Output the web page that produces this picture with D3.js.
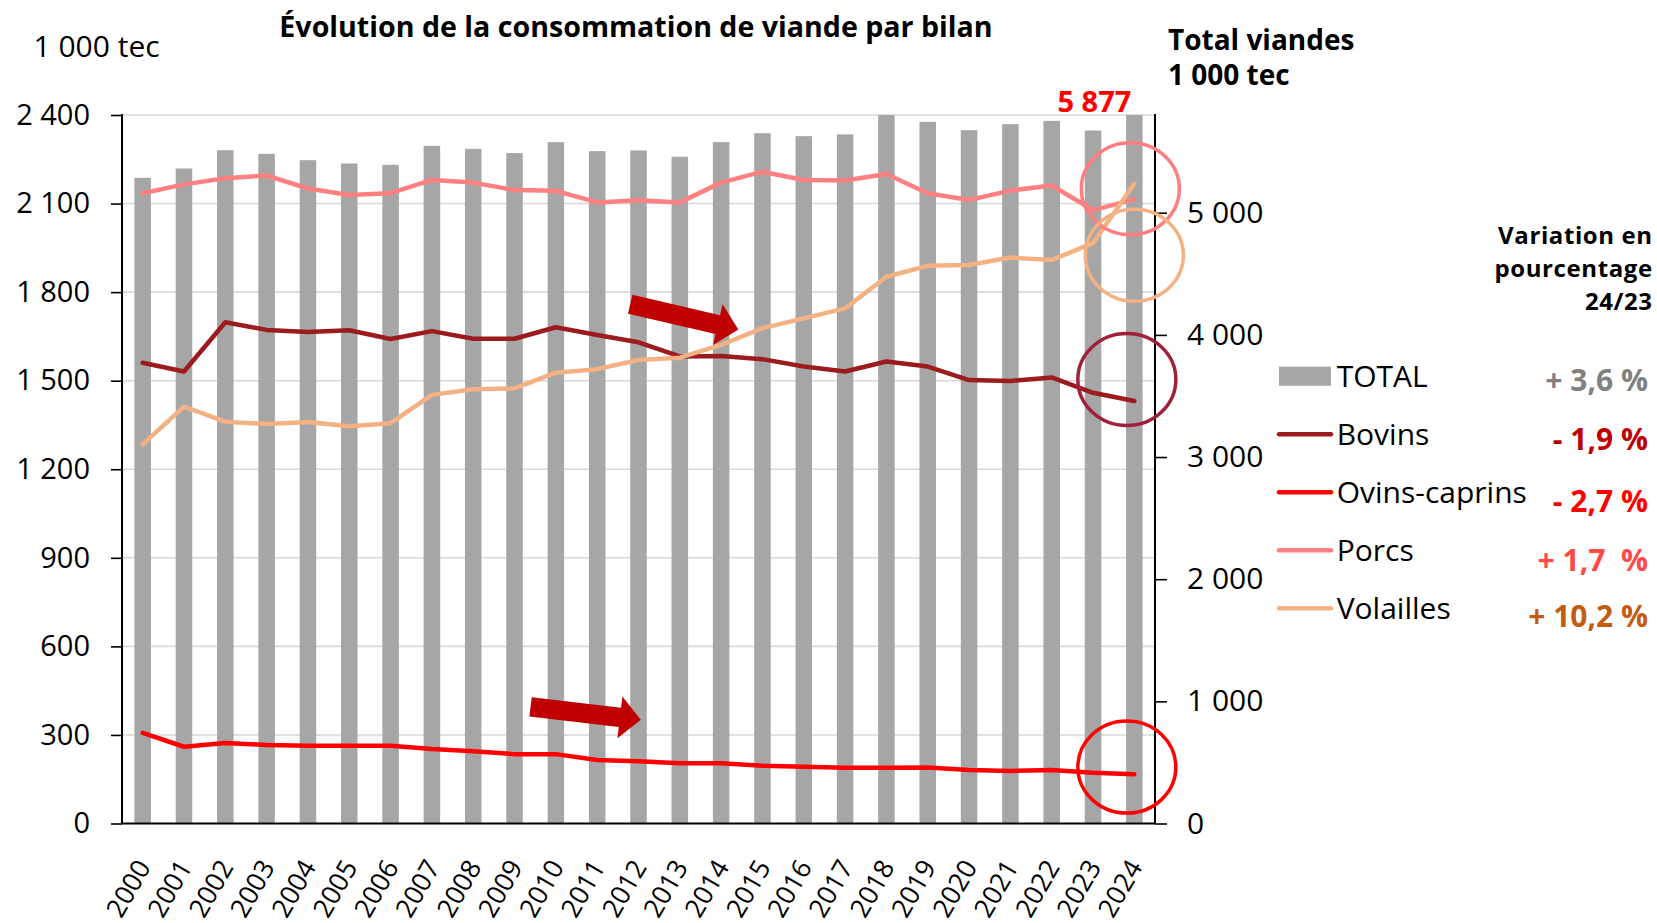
<!DOCTYPE html>
<html lang="fr">
<head>
<meta charset="utf-8">
<script src="https://cdn.jsdelivr.net/npm/d3@7"></script>
<style>
body{margin:0;background:#fff;}
svg{font-family:"Open Sans",sans-serif;}
</style>
</head>
<body>
<div id="chart"></div>
<script>
// donnees (1 000 tec)
const years = ["2000","2001","2002","2003","2004","2005","2006","2007","2008","2009","2010","2011","2012",
  "2013","2014","2015","2016","2017","2018","2019","2020","2021","2022","2023","2024"];
const total = [5286,5362,5512,5482,5430,5403,5392,5548,5523,5488,5578,5504,5510,5458,5578,5651,5627,5641,5810,5744,5676,5725,5752,5673,5877];
const bovins = [1561,1531,1698,1672,1665,1671,1641,1668,1642,1642,1681,1655,1630,1582,1584,1573,1548,1531,1565,1548,1502,1499,1511,1459,1431];
const ovins = [307,260,273,266,263,263,263,252,245,235,235,215,211,204,204,196,192,189,189,190,181,178,181,172,167];
const porcs = [2135,2165,2186,2195,2151,2129,2135,2180,2171,2146,2143,2104,2111,2104,2171,2208,2180,2178,2200,2135,2112,2144,2161,2078,2114];
const volailles = [1284,1412,1361,1353,1360,1346,1356,1452,1471,1474,1527,1539,1570,1578,1621,1678,1711,1745,1852,1889,1892,1917,1909,1966,2167];
const leftTicks = [0,300,600,900,1200,1500,1800,2100,2400];
const rightTicks = [0,1000,2000,3000,4000,5000];
const legendNames = ["TOTAL","Bovins","Ovins-caprins","Porcs","Volailles"];
const variations = ["+ 3,6 %","- 1,9 %","- 2,7 %","+ 1,7  %","+ 10,2 %"];

const W = 1657, H = 923;
const pL = 122, pR = 1155, pT = 115, pB = 823.5;

const svg = d3.select("#chart").append("svg")
  .attr("width", W).attr("height", H);

const x = d3.scaleBand().domain(years).range([pL, pR]).paddingInner(0.6).paddingOuter(0.3);
const xc = d => x(d) + x.bandwidth() / 2;
const yL = d3.scaleLinear().domain([0, 2400]).range([pB, pT]);
const yR = d3.scaleLinear().domain([0, 5800]).range([pB, pT]);
const fmt = d3.formatLocale({decimal: ",", thousands: " ", grouping: [3], currency: ["", " €"]}).format(",");

// grille
svg.append("g").selectAll("line")
  .data(leftTicks.slice(1))
  .enter().append("line")
  .attr("x1", pL).attr("x2", pR)
  .attr("y1", d => yL(d)).attr("y2", d => yL(d))
  .attr("stroke", "#d9d9d9").attr("stroke-width", 1.6);

// barres total
svg.append("clipPath").attr("id", "plot")
  .append("rect").attr("x", pL).attr("y", pT).attr("width", pR - pL).attr("height", pB - pT);

svg.append("g").attr("clip-path", "url(#plot)")
  .selectAll("rect")
  .data(total)
  .enter().append("rect")
  .attr("x", (d, i) => x(years[i]))
  .attr("y", d => yR(d))
  .attr("width", x.bandwidth())
  .attr("height", d => pB - yR(d))
  .attr("fill", "#a6a6a6");

// axes
const axL = svg.append("g").attr("transform", `translate(${pL},0)`)
  .call(d3.axisLeft(yL).tickValues(leftTicks).tickFormat(fmt).tickSize(11).tickPadding(21));
const axR = svg.append("g").attr("transform", `translate(${pR},0)`)
  .call(d3.axisRight(yR).tickValues(rightTicks).tickFormat(fmt).tickSize(12).tickPadding(20));
[axL, axR].forEach(g => {
  g.attr("font-family", "Open Sans").attr("font-size", 29);
  g.select(".domain").remove();
  g.selectAll(".tick line").attr("stroke", "#000").attr("stroke-width", 1.6);
  g.selectAll(".tick text").attr("fill", "#000");
});
axR.attr("font-size", 30);

svg.append("line").attr("x1", pL).attr("x2", pL).attr("y1", pT - 1).attr("y2", pB)
  .attr("stroke", "#000").attr("stroke-width", 2);
svg.append("line").attr("x1", pR).attr("x2", pR).attr("y1", pT - 1).attr("y2", pB)
  .attr("stroke", "#000").attr("stroke-width", 2);
svg.append("line").attr("x1", pL).attr("x2", pR).attr("y1", pB).attr("y2", pB)
  .attr("stroke", "#000").attr("stroke-width", 2);

// annees
svg.append("g").selectAll("text")
  .data(years)
  .enter().append("text")
  .attr("transform", d => `translate(${xc(d) + 9},867) rotate(-60)`)
  .attr("text-anchor", "end")
  .attr("font-size", 26.5)
  .text(d => d);

// courbes
const series = [
  {values: bovins, color: "#9b1b1f"},
  {values: ovins, color: "#ff0000"},
  {values: porcs, color: "#ff8080"},
  {values: volailles, color: "#f4b183"}
];
const line = d3.line().x((d, i) => xc(years[i])).y(d => yL(d));
svg.append("g").selectAll("path")
  .data(series)
  .enter().append("path")
  .attr("d", d => line(d.values))
  .attr("fill", "none")
  .attr("stroke", d => d.color)
  .attr("stroke-width", 4.5)
  .attr("stroke-linejoin", "round")
  .attr("stroke-linecap", "round");

// cercles 2024
const last = years[years.length - 1];
const rings = [
  {dx: -4, v: 2150, color: "#ff7c80"},
  {dx: 0, v: 1925, color: "#f4b183"},
  {dx: -7.5, v: 1504, color: "#a0203a"},
  {dx: -7.5, v: 191, color: "#ff0000"}
];
svg.append("g").selectAll("ellipse")
  .data(rings)
  .enter().append("ellipse")
  .attr("cx", d => xc(last) + d.dx)
  .attr("cy", d => yL(d.v))
  .attr("rx", 49).attr("ry", 46)
  .attr("fill", "none")
  .attr("stroke", d => d.color)
  .attr("stroke-width", 3.5);

// fleches
const arrow = "M0,-9.75L90,-9.75L90,-21L111,0L90,21L90,9.75L0,9.75Z";
svg.append("path").attr("d", arrow).attr("fill", "#c00000")
  .attr("transform", `translate(${xc("2012") - 8.3},${yL(1759)}) rotate(13.1)`);
svg.append("path").attr("d", arrow).attr("fill", "#c00000")
  .attr("transform", `translate(${xc("2009") + 16},${yL(395)}) rotate(6.7)`);

// valeur 2024
svg.append("text")
  .attr("x", xc(last) - 3).attr("y", 111.7)
  .attr("text-anchor", "end")
  .attr("font-size", 29).attr("font-weight", "bold")
  .attr("fill", "#ff0000")
  .text(fmt(total[total.length - 1]));

// titres
svg.append("text").attr("x", 636).attr("y", 37.3)
  .attr("text-anchor", "middle").attr("font-size", 28.6).attr("font-weight", "bold")
  .text("Évolution de la consommation de viande par bilan");
svg.append("text").attr("x", 33.5).attr("y", 56.7).attr("font-size", 30).text("1 000 tec");
svg.append("text").attr("x", 1168).attr("y", 50).attr("font-size", 28).attr("font-weight", "bold").text("Total viandes");
svg.append("text").attr("x", 1168).attr("y", 85).attr("font-size", 28).attr("font-weight", "bold").text("1 000 tec");

svg.append("g").selectAll("text")
  .data(["Variation en", "pourcentage", "24/23"])
  .enter().append("text")
  .attr("x", 1652.7).attr("y", (d, i) => 244 + i * 33)
  .attr("text-anchor", "end").attr("font-size", 24).attr("font-weight", "bold")
  .attr("letter-spacing", 0.6)
  .text(d => d);

// legende
const legendColors = ["#a6a6a6", "#9b1b1f", "#ff0000", "#ff8080", "#f4b183"];
const varColors = ["#808080", "#c00000", "#ff0000", "#ff4848", "#c55a11"];
const leg = svg.append("g").selectAll("g")
  .data(legendNames)
  .enter().append("g")
  .attr("transform", (d, i) => `translate(0,${i * 58})`);

leg.each(function(d, i){
  const g = d3.select(this);
  if(i === 0){
    g.append("rect").attr("x", 1279).attr("y", 366.7).attr("width", 52).attr("height", 19)
      .attr("fill", legendColors[i]);
  }else{
    g.append("line").attr("x1", 1279).attr("x2", 1331).attr("y1", 376.3).attr("y2", 376.3)
      .attr("stroke", legendColors[i]).attr("stroke-width", 4.5).attr("stroke-linecap", "round");
  }
});
leg.append("text")
  .attr("x", 1336.7).attr("y", 386.7)
  .attr("font-size", 30)
  .text(d => d);
leg.append("text")
  .data(variations)
  .attr("x", 1648).attr("y", (d, i) => 390.7 + [0, 1.6, 5, 6, 4][i])
  .attr("text-anchor", "end")
  .attr("font-size", 30).attr("font-weight", "bold")
  .style("white-space", "pre")
  .attr("fill", (d, i) => varColors[i])
  .text(d => d);
</script>
</body>
</html>
